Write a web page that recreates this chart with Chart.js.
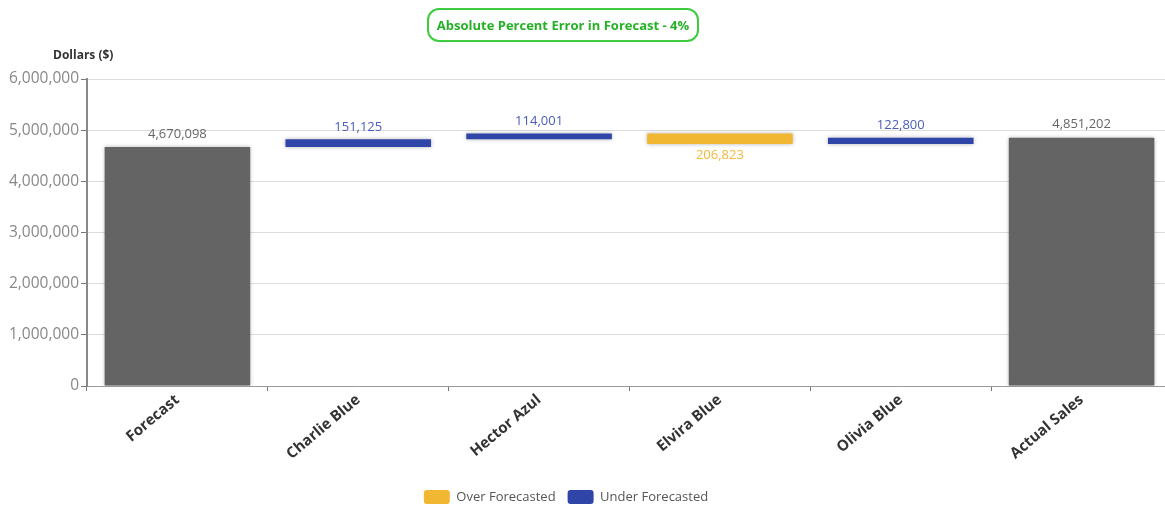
<!DOCTYPE html>
<html>
<head>
<meta charset="utf-8">
<script src="https://cdn.jsdelivr.net/npm/chart.js@4.4.0/dist/chart.umd.min.js"></script>
<style>
  body { margin: 0; background: #fff; font-family: "Open Sans", sans-serif; }
  #wrap { position: relative; width: 1165px; height: 506px; overflow: hidden; }
  #myChart { position: absolute; left: 0; top: 0; }
  #badge {
    position: absolute; left: 427px; top: 8px; width: 268px; height: 30px;
    border: 2px solid #3dcc3d; border-radius: 12px;
    color: #25b125; font-weight: bold; font-size: 13px;
    line-height: 30px; text-align: center;
  }
  #ylab { position: absolute; left: 53px; top: 46px; font-size: 12px; font-weight: bold; color: #333; }
</style>
</head>
<body>
<div id="wrap">
  <canvas id="myChart" width="1172" height="506"></canvas>
  <div id="badge">Absolute Percent Error in Forecast - 4%</div>
  <div id="ylab">Dollars ($)</div>
</div>
<script>
const categories = ["Forecast", "Charlie Blue", "Hector Azul", "Elvira Blue", "Olivia Blue", "Actual Sales"];
const forecastTotal = 4670098;
const actualTotal = 4851202;
// per-person difference between actual and forecast
const variances = [null, 151125, 114001, -206823, 122800, null];
const yTicks = [0, 1000000, 2000000, 3000000, 4000000, 5000000, 6000000];

const GRAY = "#646464", BLUE = "#2f45a8", YELLOW = "#f2b732";

// build floating [from, to] ranges for the waterfall
const totals = categories.map(() => null);
const over = categories.map(() => null);
const under = categories.map(() => null);
totals[0] = [0, forecastTotal];
totals[categories.length - 1] = [0, actualTotal];
let running = forecastTotal;
variances.forEach((v, i) => {
  if (v === null) return;
  const next = running + v;
  if (v < 0) over[i] = [running, next];
  else under[i] = [running, next];
  running = next;
});

const fmt = n => Math.abs(n).toLocaleString("en-US");

const valueLabels = {
  id: "valueLabels",
  afterDatasetsDraw(chart) {
    const ctx = chart.ctx;
    ctx.save();
    ctx.font = "13px 'Open Sans', sans-serif";
    ctx.textAlign = "center";
    ctx.textBaseline = "middle";
    chart.data.datasets.forEach((ds, di) => {
      const meta = chart.getDatasetMeta(di);
      meta.data.forEach((bar, i) => {
        const r = ds.data[i];
        if (!r) return;
        const top = Math.min(bar.y, bar.base);
        const bottom = Math.max(bar.y, bar.base);
        let text, y;
        if (ds.label === "Totals") {
          text = fmt(r[1]); y = top - 13;
        } else if (ds.label === "Over Forecasted") {
          text = fmt(variances[i]); y = bottom + 11;
        } else {
          text = fmt(variances[i]); y = top - 12;
        }
        ctx.fillStyle = ds.labelColor;
        ctx.fillText(text, bar.x, y);
      });
    });
    ctx.restore();
  }
};

const barShadow = {
  id: "barShadow",
  beforeDatasetsDraw(chart) {
    chart.ctx.save();
    chart.ctx.shadowColor = "rgba(0,0,0,0.3)";
    chart.ctx.shadowBlur = 4;
  },
  afterDatasetsDraw(chart) {
    chart.ctx.restore();
  }
};

// legend sits a little left of the canvas centre
const legendShift = {
  id: "legendShift",
  afterLayout(chart) {
    chart.legend.left -= 20;
    chart.legend.right -= 20;
  }
};

new Chart(document.getElementById("myChart"), {
  type: "bar",
  data: {
    labels: categories,
    datasets: [
      { label: "Totals", data: totals, backgroundColor: GRAY, labelColor: "#666" },
      { label: "Over Forecasted", data: over, backgroundColor: YELLOW, labelColor: "#f4b83a" },
      { label: "Under Forecasted", data: under, backgroundColor: BLUE, labelColor: "#4a5cbd" }
    ]
  },
  options: {
    responsive: false,
    animation: false,
    grouped: false,
    barPercentage: 0.805,
    categoryPercentage: 1,
    layout: { padding: { top: 79, right: 0, left: 0, bottom: -8 } },
    plugins: {
      tooltip: { enabled: false },
      legend: {
        position: "bottom",
        labels: {
          filter: item => item.text !== "Totals",
          boxWidth: 26, boxHeight: 14, useBorderRadius: true, borderRadius: 3,
          color: "#555", padding: 12,
          font: { family: "'Open Sans', sans-serif", size: 13 }
        }
      }
    },
    scales: {
      x: {
        grid: { drawOnChartArea: false, offset: true, tickLength: 5, color: "#777" },
        border: { color: "#999" },
        ticks: {
          minRotation: 40, maxRotation: 40, color: "#333", padding: 0,
          font: { family: "'Open Sans', sans-serif", size: 15, weight: "bold" }
        },
        afterFit(scale) { scale.height = 92; }
      },
      y: {
        min: 0, max: 6000000,
        afterBuildTicks(scale) { scale.ticks = yTicks.map(v => ({ value: v })); },
        grid: { color: "#ddd", tickLength: 6, tickColor: "#777" },
        border: { color: "#888", width: 2 },
        ticks: {
          color: "#888", padding: 2,
          font: { family: "'Open Sans', sans-serif", size: 15.5 },
          callback: v => v.toLocaleString("en-US")
        },
        afterFit(scale) { scale.width = 87; }
      }
    }
  },
  plugins: [barShadow, valueLabels, legendShift]
});
</script>
</body>
</html>
